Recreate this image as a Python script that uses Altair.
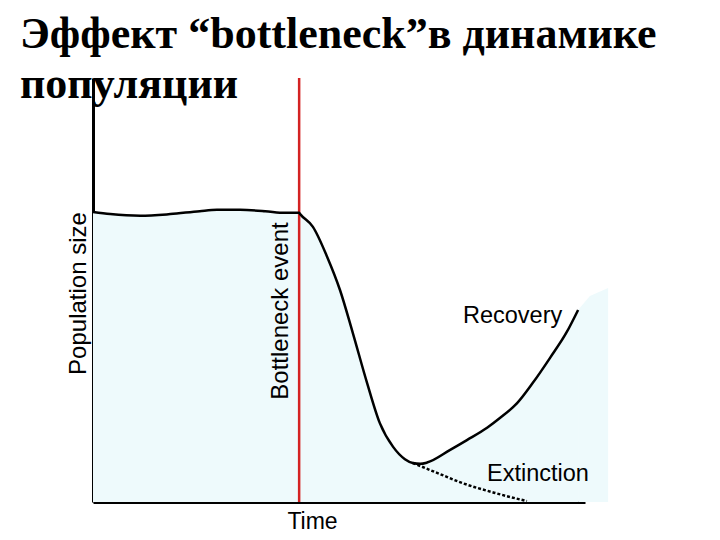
import altair as alt
import pandas as pd

# Main population curve (time units, population units)
curve_t = [0, 3.5, 9.6, 15.7, 21.7, 25.2, 29.9, 35.0, 39.0, 41.9, 42.1, 44.7, 47.6, 50.2,
           52.8, 55.7, 58.3, 61.0, 63.4, 65.0, 66.5, 67.9, 72.6, 76.0, 80.1, 82.7, 86.2,
           89.4, 92.9, 96.3, 98.6]
curve_p = [68.4, 67.9, 67.5, 67.9, 68.6, 68.9, 68.9, 68.6, 68.2, 68.2, 67.9, 64.9, 57.8, 50.0,
           39.9, 28.1, 18.6, 13.0, 10.1, 9.2, 9.0, 9.3, 12.3, 14.6, 17.5, 19.8, 23.3,
           28.1, 34.0, 40.1, 45.3]

# Extinction branch (dotted)
ext_t = [65.0, 70.5, 75.0, 81.5, 88.2]
ext_p = [9.2, 6.6, 4.5, 2.2, 0.2]

# Right-hand extension of the shaded background region
fill_ext_t = [98.6, 101.0, 104.7]
fill_ext_p = [45.3, 48.6, 50.5]

bottleneck_t = 41.9

title_lines = ["Эффект “bottleneck”в динамике", "популяции"]

df_curve = pd.DataFrame({"t": curve_t, "p": curve_p})
df_ext = pd.DataFrame({"t": ext_t, "p": ext_p})
df_fill_ext = pd.DataFrame({"t": fill_ext_t, "p": fill_ext_p})

xscale = alt.Scale(domain=[0, 100], nice=False, zero=False)
yscale = alt.Scale(domain=[0, 100], nice=False)

xaxis = alt.Axis(domain=True, domainColor="black", domainWidth=3, ticks=False, labels=False,
                 grid=False, title="Time", titleFont="Liberation Sans", titleFontSize=23,
                 titleFontWeight="normal", titleColor="black", titleX=219, titleY=26,
                 titleAlign="center", titleBaseline="alphabetic")
yaxis = alt.Axis(domain=True, domainColor="black", domainWidth=3, ticks=False, labels=False,
                 grid=False, title="Population size", titleFont="Liberation Sans", titleFontSize=24,
                 titleFontWeight="normal", titleColor="black", titleAngle=270, titleX=-8,
                 titleY=215, titleAlign="center", titleBaseline="alphabetic")

fill_color = "#eefafc"

area = alt.Chart(df_curve).mark_area(color=fill_color, interpolate="monotone").encode(
    x=alt.X("t:Q", scale=xscale, axis=xaxis),
    y=alt.Y("p:Q", scale=yscale, axis=yaxis),
)

area_ext = alt.Chart(df_fill_ext).mark_area(color=fill_color, interpolate="linear").encode(
    x=alt.X("t:Q", scale=xscale), y=alt.Y("p:Q", scale=yscale)
)

line = alt.Chart(df_curve).mark_line(color="black", strokeWidth=2.5, interpolate="monotone").encode(
    x=alt.X("t:Q", scale=xscale), y=alt.Y("p:Q", scale=yscale)
)

dotted = alt.Chart(df_ext).mark_line(color="black", strokeWidth=2.5, strokeDash=[3, 2],
                                     interpolate="monotone").encode(
    x=alt.X("t:Q", scale=xscale), y=alt.Y("p:Q", scale=yscale)
)

rule = alt.Chart(pd.DataFrame({"t": [bottleneck_t]})).mark_rule(color="#d42222", strokeWidth=2.5).encode(
    x=alt.X("t:Q", scale=xscale)
)

one = pd.DataFrame({"a": [0]})


def label(text, x, y, size, angle=0, font="Liberation Sans", weight="normal", align="left"):
    return alt.Chart(one).mark_text(text=text, font=font, fontSize=size, fontWeight=weight,
                                    angle=angle, align=align, baseline="alphabetic",
                                    color="black").encode(x=alt.value(x), y=alt.value(y))


labels = [
    label("Bottleneck event", 195, 233, 24, angle=270, align="center"),
    label("Recovery", 370, 245, 23.5),
    label("Extinction", 394, 403, 23.5),
    label(title_lines[0], -73, -30, 44, font="Liberation Serif", weight="bold"),
    label(title_lines[1], -73, 20, 44, font="Liberation Serif", weight="bold"),
]

chart = alt.layer(area, area_ext, rule, dotted, line, *labels).properties(
    width=492, height=424,
    padding={"left": 85, "top": 70, "right": 127, "bottom": 30},
    autosize=alt.AutoSizeParams(type="none"),
    background="white",
).configure_view(stroke=None)

chart.save("out.html", embed_options={"renderer": "svg", "actions": False})
